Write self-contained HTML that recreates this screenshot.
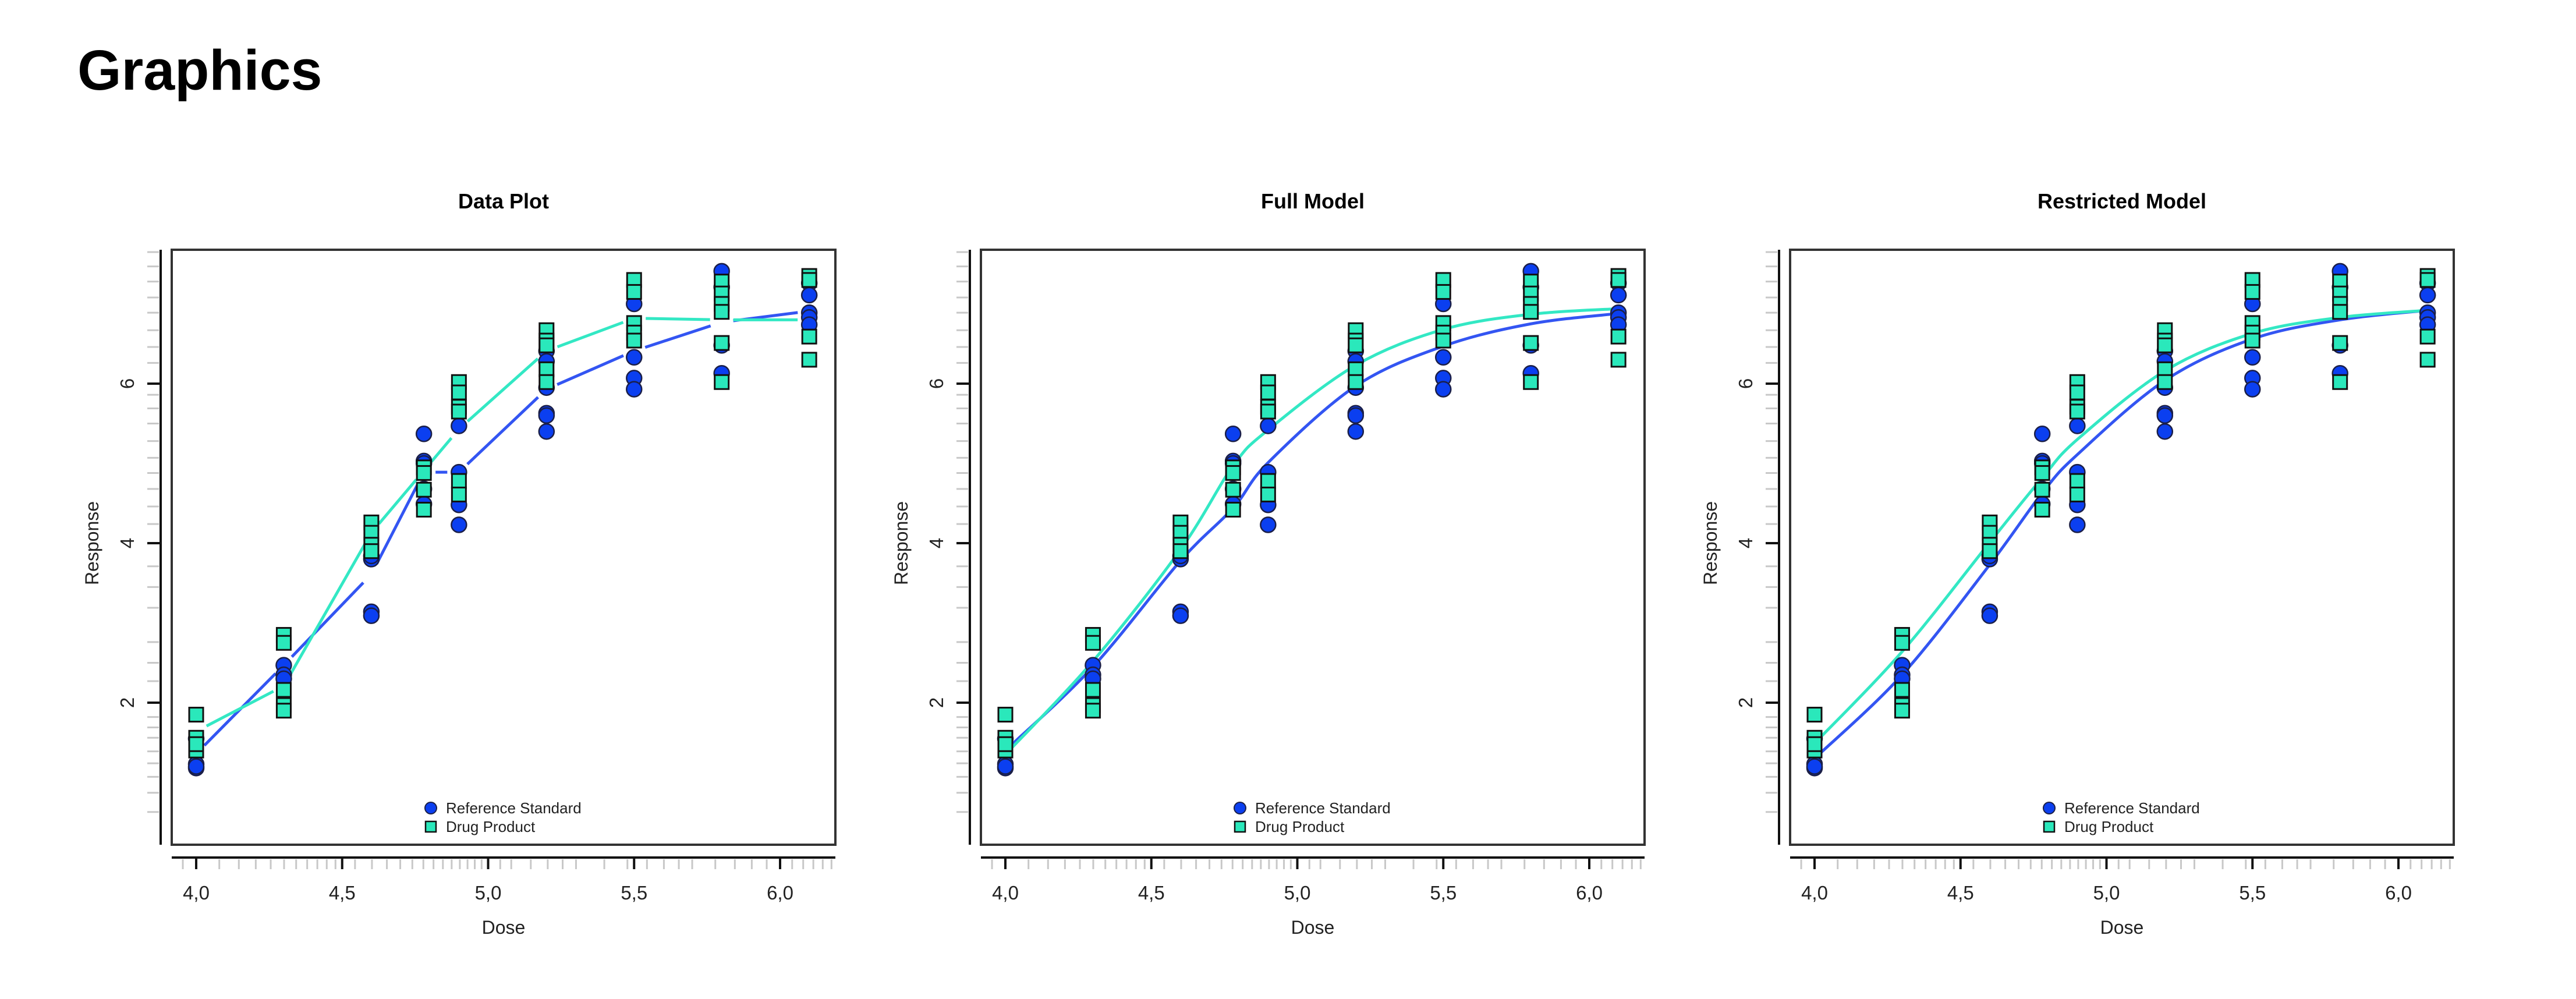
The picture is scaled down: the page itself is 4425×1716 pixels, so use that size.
<!DOCTYPE html>
<html><head><meta charset="utf-8"><style>
html,body{margin:0;padding:0;background:#fff;}
body{width:4425px;height:1716px;overflow:hidden;position:relative;font-family:"Liberation Sans",Arial,sans-serif;}
#heading{position:absolute;left:133px;top:72px;margin:0;font-size:97px;font-weight:bold;color:#000;line-height:1;}
svg{position:absolute;left:0;top:0;}
</style></head><body>
<h1 id="heading">Graphics</h1>
<svg id="chart" width="4425" height="1716"></svg>
<script>
const doses = [4.0, 4.3, 4.6, 4.78, 4.9, 5.2, 5.5, 5.8, 6.1];
const refValues = [
  [1.55, 1.23, 1.18, 1.20],
  [2.47, 2.35, 2.30],
  [3.80, 3.84, 3.14, 3.09],
  [5.37, 5.03, 5.00, 4.68, 4.49],
  [5.47, 4.89, 4.48, 4.23],
  [6.41, 6.28, 5.95, 5.63, 5.60, 5.40],
  [7.00, 6.33, 6.07, 5.93],
  [7.41, 7.21, 6.48, 6.13],
  [7.26, 7.11, 6.89, 6.83, 6.74]
];
const drugValues = [
  [1.85, 1.56, 1.40, 1.48],
  [2.85, 2.75, 2.16, 1.97, 1.90],
  [4.26, 4.13, 3.98, 3.90],
  [4.95, 4.88, 4.67, 4.42],
  [6.02, 5.89, 5.71, 5.65, 4.78, 4.61],
  [6.67, 6.54, 6.48, 6.18, 6.02],
  [7.30, 7.15, 6.76, 6.64, 6.54],
  [7.28, 7.13, 7.00, 6.90, 6.51, 6.02],
  [7.35, 7.30, 6.59, 6.30]
];
const refMeans = [1.36, 2.47, 3.61, 4.89, 4.89, 5.93, 6.41, 6.77, 6.91];
const drugMeans = [1.64, 2.21, 4.13, 4.91, 5.43, 6.41, 6.82, 6.80, 6.80];
const fullRefCurve = [1.40, 2.45, 3.78, 4.44, 5.01, 5.97, 6.47, 6.75, 6.88];
const fullDrugCurve = [1.35, 2.52, 3.92, 4.97, 5.42, 6.23, 6.68, 6.87, 6.94];
const restrRefCurve = [1.30, 2.35, 3.73, 4.63, 5.11, 6.04, 6.56, 6.80, 6.92];
const restrDrugCurve = [1.49, 2.64, 4.01, 4.82, 5.30, 6.16, 6.63, 6.83, 6.92];
const xTicks = [4.0, 4.5, 5.0, 5.5, 6.0];
const xTickLabels = ["4,0", "4,5", "5,0", "5,5", "6,0"];
const yTicks = [2, 4, 6];
const yTickLabels = ["2", "4", "6"];
const yMinor = [7.65,7.47,7.28,7.08,6.89,6.67,6.46,6.26,5.86,5.69,5.5,5.28,5.07,4.88,4.68,4.46,4.24,3.71,3.45,3.19,2.76,2.5,2.27,1.82,1.69,1.56,1.39,1.24,1.07,0.87,0.63];
const xMinorK = [8,9,12,14,16,18,20,22,24,26,28,30,35,40,45,50,55,60,65,70,75,80,85,90,95,110,120,140,160,180,200,250,300,350,400,450,500,600,700,800,900,1100,1200,1300,1400,1500];
const panelTitles = ["Data Plot", "Full Model", "Restricted Model"];

const NS = "http://www.w3.org/2000/svg";
const svg = document.getElementById("chart");
function mk(tag, attrs, parent) {
  const e = document.createElementNS(NS, tag);
  for (const k in attrs) e.setAttribute(k, attrs[k]);
  parent.appendChild(e);
  return e;
}
const BOX_W = 1140, TOP = 429, BOT = 1451;
const BLUE = "#0b3ff0", TEAL = "#2ae8bb", BLUE_L = "#3355f2", TEAL_L = "#33e8c4";

function catmull(pts) {
  let d = "M" + pts[0][0] + "," + pts[0][1];
  for (let i = 0; i < pts.length - 1; i++) {
    const p0 = pts[i - 1] || pts[i], p1 = pts[i], p2 = pts[i + 1], p3 = pts[i + 2] || pts[i + 1];
    const c1x = p1[0] + (p2[0] - p0[0]) / 6, c1y = p1[1] + (p2[1] - p0[1]) / 6;
    const c2x = p2[0] - (p3[0] - p1[0]) / 6, c2y = p2[1] - (p3[1] - p1[1]) / 6;
    d += " C" + c1x + "," + c1y + " " + c2x + "," + c2y + " " + p2[0] + "," + p2[1];
  }
  return d;
}

panelTitles.forEach((title, pi) => {
  const left = 295 + pi * 1390;
  const xS = v => left + 42 + (v - 4.0) * 501.5;
  const yS = v => 659 - (v - 6) * 137;
  const g = mk("g", {}, svg);
  
  

  const t = mk("text", {x: left + BOX_W / 2, y: 358, "text-anchor": "middle", "font-size": 36, "font-weight": "bold", fill: "#000"}, g);
  t.textContent = title;
  
  

  // y axis
  const ya = mk("line", {x1: left - 19, y1: TOP, x2: left - 19, y2: BOT, stroke: "#111", "stroke-width": 4}, g);
  
  
  yMinor.forEach(v => {
    const l = mk("line", {x1: left - 42, x2: left - 22, y1: yS(v), y2: yS(v), stroke: "#c8c8c8", "stroke-width": 3}, g);
    
    
  });
  yTicks.forEach((v, i) => {
    const l = mk("line", {x1: left - 42, x2: left - 19, y1: yS(v), y2: yS(v), stroke: "#111", "stroke-width": 4}, g);
    
    
    const tx = mk("text", {x: 0, y: 0, transform: "translate(" + (left - 65) + "," + yS(v) + ") rotate(-90)", "text-anchor": "middle", "font-size": 33, fill: "#222"}, g);
    tx.textContent = yTickLabels[i];
    
    
  });
  const yl = mk("text", {x: 0, y: 0, transform: "translate(" + (left - 126) + ",933) rotate(-90)", "text-anchor": "middle", "font-size": 32, fill: "#222"}, g);
  yl.textContent = "Response";
  
  

  // x axis
  const xa = mk("line", {x1: left, y1: 1473, x2: left + BOX_W, y2: 1473, stroke: "#111", "stroke-width": 4}, g);
  
  
  xMinorK.forEach(k => {
    const v = Math.log10(k * 1000);
    const x = xS(v);
    if (x < left + 3 || x > left + BOX_W - 3) return;
    const l = mk("line", {x1: x, x2: x, y1: 1476, y2: 1493, stroke: "#c8c8c8", "stroke-width": 3}, g);
    
    
  });
  xTicks.forEach((v, i) => {
    const l = mk("line", {x1: xS(v), x2: xS(v), y1: 1473, y2: 1493, stroke: "#111", "stroke-width": 4}, g);
    
    
    const tx = mk("text", {x: xS(v), y: 1545, "text-anchor": "middle", "font-size": 33, fill: "#222"}, g);
    tx.textContent = xTickLabels[i];
    
    
  });
  const xl = mk("text", {x: left + BOX_W / 2, y: 1604, "text-anchor": "middle", "font-size": 32, fill: "#222"}, g);
  xl.textContent = "Dose";
  
  

  // plot box
  const box = mk("rect", {x: left, y: TOP, width: BOX_W, height: BOT - TOP, fill: "none", stroke: "#333", "stroke-width": 4}, g);
  
  

  // lines
  function drawSeriesLine(vals, color, name) {
    if (pi === 0) {
      const gap = 20;
      for (let i = 0; i < doses.length - 1; i++) {
        const x1 = xS(doses[i]), y1 = yS(vals[i]), x2 = xS(doses[i + 1]), y2 = yS(vals[i + 1]);
        const L = Math.hypot(x2 - x1, y2 - y1);
        if (L <= 2 * gap) continue;
        const ux = (x2 - x1) / L, uy = (y2 - y1) / L;
        const s = mk("line", {x1: x1 + ux * gap, y1: y1 + uy * gap, x2: x2 - ux * gap, y2: y2 - uy * gap, stroke: color, "stroke-width": 5}, g);
        
        
      }
    } else {
      const pts = doses.map((d, i) => [xS(d), yS(vals[i])]);
      const p = mk("path", {d: catmull(pts), fill: "none", stroke: color, "stroke-width": 5}, g);
      
      
    }
  }
  const rc = pi === 0 ? refMeans : pi === 1 ? fullRefCurve : restrRefCurve;
  const dc = pi === 0 ? drugMeans : pi === 1 ? fullDrugCurve : restrDrugCurve;
  drawSeriesLine(rc, BLUE_L, 'reference-standard');
  drawSeriesLine(dc, TEAL_L, 'drug-product');

  // points
  doses.forEach((d, i) => {
    refValues[i].forEach(v => {
      const c = mk("circle", {cx: xS(d), cy: yS(v), r: 13, fill: BLUE, stroke: "#1b1f48", "stroke-width": 2.5}, g);
      
      
    });
  });
  doses.forEach((d, i) => {
    drugValues[i].forEach(v => {
      const r = mk("rect", {x: xS(d) - 12, y: yS(v) - 12, width: 24, height: 24, fill: TEAL, stroke: "#111", "stroke-width": 3}, g);
      
      
    });
  });

  // legend
  const lg = mk("g", {}, g);
  
  
  const lc = mk("circle", {cx: left + 445, cy: 1388, r: 10, fill: BLUE, stroke: "#1b1f48", "stroke-width": 2}, lg);
  
  
  const lt1 = mk("text", {x: left + 471, y: 1397, "font-size": 26, fill: "#222"}, lg);
  lt1.textContent = "Reference Standard";
  
  
  const ls = mk("rect", {x: left + 436, y: 1411, width: 18, height: 18, fill: TEAL, stroke: "#111", "stroke-width": 2.5}, lg);
  
  
  const lt2 = mk("text", {x: left + 471, y: 1429, "font-size": 26, fill: "#222"}, lg);
  lt2.textContent = "Drug Product";
  
  
});
</script>
</body></html>
